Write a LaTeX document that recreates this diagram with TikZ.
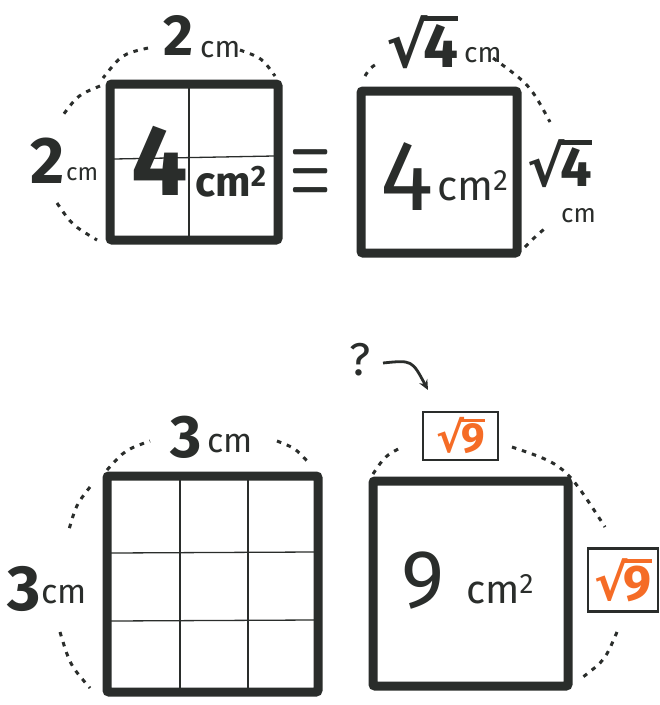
\documentclass[tikz,border=0pt]{standalone}
\usepackage{fontspec}
\setmainfont{Fira Sans}
\newfontfamily\djv{DejaVu Sans}
\usetikzlibrary{arrows.meta}
\definecolor{ink}{RGB}{42,45,43}
\definecolor{orng}{RGB}{245,108,38}
\newcommand\myroot[1]{{\djv\bfseries √}\kern-0.07em\setbox0=\hbox{#1}\rlap{\rule[0.74em]{\wd0}{0.08em}}\box0}
\begin{document}
\begin{tikzpicture}[x=1pt,y=-1pt,
 sq/.style={draw=ink,line width=9pt,rounded corners=2pt,inner sep=0pt,outer sep=0pt},
 gridln/.style={draw=ink,line width=1.3pt},
 dimarc/.style={draw=ink,line width=3pt,dash pattern=on 4.5pt off 6pt},
 lbl/.style={text=ink,inner sep=0pt},
 obox/.style={draw=ink,line width=2.5pt,inner sep=0pt,text=orng},
 ]
\useasboundingbox (0,0) rectangle (660,705);
\fill[white] (0,0) rectangle (660,705);

% ---------- square 1 ----------
\node[sq,minimum width=168pt,minimum height=156pt] (s1) at (194,162) {};
\draw[gridln] (189,88) -- (189,236);
\draw[gridln] (114,159) -- (274,156);
\node[lbl,anchor=base,font=\fontsize{100}{100}\selectfont\bfseries] (s1n) at (160,195) {4};
\node[lbl,anchor=base west,font=\fontsize{42}{42}\selectfont\bfseries] (s1u) at (195,196) {cm\textsuperscript{2}};
\node[lbl,anchor=base,font=\fontsize{58}{58}\selectfont\bfseries] (s1t) at (178,55) {2};
\node[lbl,anchor=base west,font=\fontsize{30}{30}\selectfont] (s1tu) at (200,57) {cm};
\node[lbl,anchor=base,font=\fontsize{66}{66}\selectfont\bfseries] (s1l) at (48,183) {2};
\node[lbl,anchor=base west,font=\fontsize{24}{24}\selectfont] (s1lu) at (66,180) {cm};
\draw[dimarc] (148,48) .. controls (122,54) .. (103,78);
\draw[dimarc] (240,50) .. controls (262,58) .. (275,76);
\draw[dimarc] (100,86) .. controls (78,95) .. (63,115);
\draw[dimarc] (57,203) .. controls (72,225) .. (97,240);

% equivalence sign
\node[lbl] (eq) at (311,171) {\scalebox{4.5}[8.5]{\boldmath$\equiv$}};

% ---------- square 2 ----------
\node[sq,minimum width=156pt,minimum height=162pt] (s2) at (439,172) {};
\node[lbl,anchor=base,font=\fontsize{100}{100}\selectfont] (s2n) at (407,210) {4};
\node[lbl,anchor=base west,font=\fontsize{42}{42}\selectfont] (s2u) at (437,200) {cm\textsuperscript{2}};
\node[lbl,anchor=base west,font=\fontsize{62}{62}\selectfont\bfseries] (s2t) at (386,67) {\myroot{4}};
\node[lbl,anchor=base west,font=\fontsize{28}{28}\selectfont] (s2tu) at (464,62) {cm};
\node[lbl,anchor=base west,font=\fontsize{56}{56}\selectfont\bfseries] (s2r) at (527,186) {\myroot{4}};
\node[lbl,anchor=base west,font=\fontsize{26}{26}\selectfont] (s2ru) at (561,222) {cm};
\draw[dimarc] (365,76) .. controls (370,68) .. (378,63);
\draw[dimarc] (493,58) .. controls (530,85) .. (550,122);
\draw[dimarc] (525,247) .. controls (537,235) .. (548,226);

% ---------- square 3 ----------
\node[sq,minimum width=211pt,minimum height=216pt] (s3) at (212.5,584) {};
\draw[gridln] (180,480) -- (180,688);
\draw[gridln] (248,480) -- (248,688);
\draw[gridln] (111,553) -- (314,552);
\draw[gridln] (111,621) -- (314,620);
\node[lbl,anchor=base,font=\fontsize{60}{60}\selectfont\bfseries] (s3t) at (186,457) {3};
\node[lbl,anchor=base west,font=\fontsize{34}{34}\selectfont] (s3tu) at (207,452) {cm};
\node[lbl,anchor=base,font=\fontsize{64}{64}\selectfont\bfseries] (s3l) at (24,610) {3};
\node[lbl,anchor=base west,font=\fontsize{34}{34}\selectfont] (s3lu) at (41,603) {cm};
\draw[dimarc] (107,470) .. controls (125,450) .. (150,441);
\draw[dimarc] (277,441) .. controls (295,448) .. (308,462);
\draw[dimarc] (90,487) .. controls (76,505) .. (68,533);
\draw[dimarc] (60,632) .. controls (70,665) .. (90,688);

% ---------- square 4 ----------
\node[sq,minimum width=195pt,minimum height=205pt] (s4) at (470.5,583.5) {};
\node[lbl,anchor=base,font=\fontsize{82}{82}\selectfont] (s4n) at (423,607) {9};
\node[lbl,anchor=base west,font=\fontsize{40}{40}\selectfont] (s4u) at (466,603) {cm\textsuperscript{2}};
\node[obox,minimum width=75pt,minimum height=48pt,font=\fontsize{42}{42}\selectfont\bfseries] (b1) at (460.5,436) {\myroot{9}};
\node[obox,minimum width=70pt,minimum height=63pt,font=\fontsize{50}{50}\selectfont\bfseries] (b2) at (623,580) {\myroot{9}};
\draw[dimarc] (373,474) .. controls (385,456) .. (402,447);
\draw[dimarc] (512,447) .. controls (565,465) .. (605,527);
\draw[dimarc] (617,632) .. controls (605,660) .. (583,677);

% question mark and arrow
\node[lbl,font=\fontsize{46}{46}\selectfont] (q) at (360,360) {?};
\coordinate (arrS) at (383,363);
\coordinate (arrE) at (428,390);
\draw[ink,line width=2.8pt,-{Stealth[length=10pt,width=9pt]}] (arrS) .. controls (412,360) .. (arrE);
\end{tikzpicture}
\end{document}
